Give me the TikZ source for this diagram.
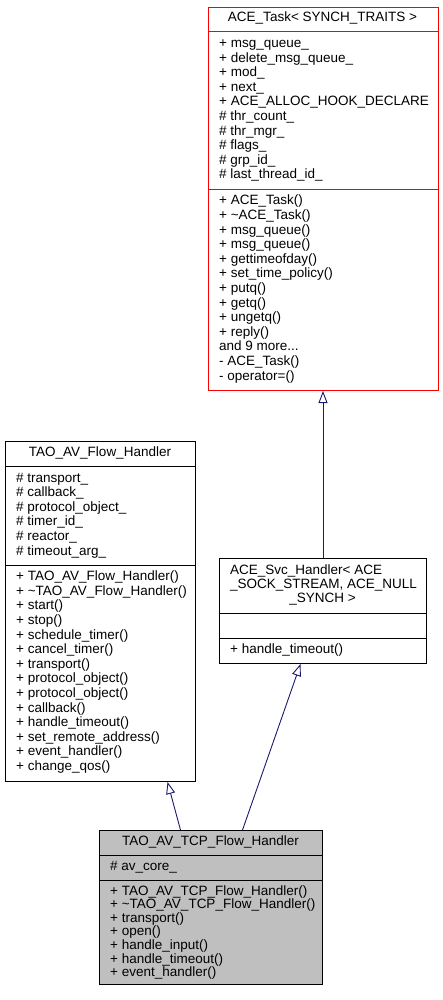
\documentclass[tikz,border=0pt]{standalone}
\usepackage{fontspec}
\setmainfont{Liberation Sans}
\usetikzlibrary{arrows.meta}

\definecolor{edgeblue}{RGB}{25,25,112}
\definecolor{taskred}{RGB}{255,0,0}
\definecolor{basegray}{RGB}{191,191,191}

\tikzset{
  every picture/.append style={x=1pt, y=-1pt},
  classbox/.style={draw, line width=1pt, anchor=north west, inner sep=0pt},
  member/.style={anchor=base west, inner sep=0pt, align=left, font=\fontsize{13.5}{14.6}\selectfont},
  tightmember/.style={member, font=\fontsize{13.5}{13.6}\selectfont},
  classname/.style={anchor=base, inner sep=0pt, font=\fontsize{13.5}{14}\selectfont},
  inherit/.style={edgeblue, line width=0.9pt, -{Triangle[open, length=12pt, width=9pt]}},
}

\begin{document}
\begin{tikzpicture}
  \useasboundingbox (0,0) rectangle (443,1000);

  \node[classbox, taskred, minimum width=230pt, minimum height=383.3pt] (task) at (207.5,6.7) {};
  \draw[taskred, line width=1pt] (task.west |- 0,32) -- (task.east |- 0,32);
  \draw[taskred, line width=1pt] (task.west |- 0,189.3) -- (task.east |- 0,189.3);
  \node[classname] (tasktitle) at (322.5,22) {ACE\_Task< SYNCH\_TRAITS >};
  \node[member] (taskattr) at (219,179) {+ msg\_queue\_\\+ delete\_msg\_queue\_\\+ mod\_\\+ next\_\\+ ACE\_ALLOC\_HOOK\_DECLARE\\\# thr\_count\_\\\# thr\_mgr\_\\\# flags\_\\\# grp\_id\_\\\# last\_thread\_id\_};
  \node[member] (taskop) at (219,380) {+ ACE\_Task()\\+ \textasciitilde ACE\_Task()\\+ msg\_queue()\\+ msg\_queue()\\+ gettimeofday()\\+ set\_time\_policy()\\+ putq()\\+ getq()\\+ ungetq()\\+ reply()\\and 9 more...\\- ACE\_Task()\\- operator=()};

  \node[classbox, minimum width=190pt, minimum height=340pt] (flowh) at (5,441) {};
  \draw[line width=1pt] (flowh.west |- 0,466) -- (flowh.east |- 0,466);
  \draw[line width=1pt] (flowh.west |- 0,565) -- (flowh.east |- 0,565);
  \node[classname] (flowhtitle) at (100,456.7) {TAO\_AV\_Flow\_Handler};
  \node[member] (flowhattr) at (16,555) {\# transport\_\\\# callback\_\\\# protocol\_object\_\\\# timer\_id\_\\\# reactor\_\\\# timeout\_arg\_};
  \node[member] (flowhop) at (16,770.4) {+ TAO\_AV\_Flow\_Handler()\\+ \textasciitilde TAO\_AV\_Flow\_Handler()\\+ start()\\+ stop()\\+ schedule\_timer()\\+ cancel\_timer()\\+ transport()\\+ protocol\_object()\\+ protocol\_object()\\+ callback()\\+ handle\_timeout()\\+ set\_remote\_address()\\+ event\_handler()\\+ change\_qos()};

  \node[classbox, minimum width=207pt, minimum height=105pt] (svch) at (219,558) {};
  \draw[line width=1pt] (svch.west |- 0,613) -- (svch.east |- 0,613);
  \draw[line width=1pt] (svch.west |- 0,638) -- (svch.east |- 0,638);
  \node[member, font=\fontsize{13.5}{14}\selectfont] (svchtitle) at (230,588) {ACE\_Svc\_Handler< ACE\\\_SOCK\_STREAM, ACE\_NULL};
  \node[classname] (svchtitleend) at (322.5,602) {\_SYNCH >};
  \node[member] (svchop) at (230,653.3) {+ handle\_timeout()};

  \node[classbox, fill=basegray, minimum width=223pt, minimum height=154pt] (tcpflowh) at (99,830) {};
  \draw[line width=1pt] (tcpflowh.west |- 0,855) -- (tcpflowh.east |- 0,855);
  \draw[line width=1pt] (tcpflowh.west |- 0,880) -- (tcpflowh.east |- 0,880);
  \node[classname] (tcpflowhtitle) at (210.5,845.7) {TAO\_AV\_TCP\_Flow\_Handler};
  \node[member] (tcpflowhattr) at (110,870.7) {\# av\_core\_};
  \node[tightmember] (tcpflowhop) at (110,976.6) {+ TAO\_AV\_TCP\_Flow\_Handler()\\+ \textasciitilde TAO\_AV\_TCP\_Flow\_Handler()\\+ transport()\\+ open()\\+ handle\_input()\\+ handle\_timeout()\\+ event\_handler()};

  \draw[inherit] (svch.north) -- (task.south);
  \draw[inherit] ([xshift=31.5pt]tcpflowh.north) -- ([xshift=-22.5pt]svch.south);
  \draw[inherit] ([xshift=-30.5pt]tcpflowh.north) -- ([xshift=67pt]flowh.south);
\end{tikzpicture}
\end{document}
